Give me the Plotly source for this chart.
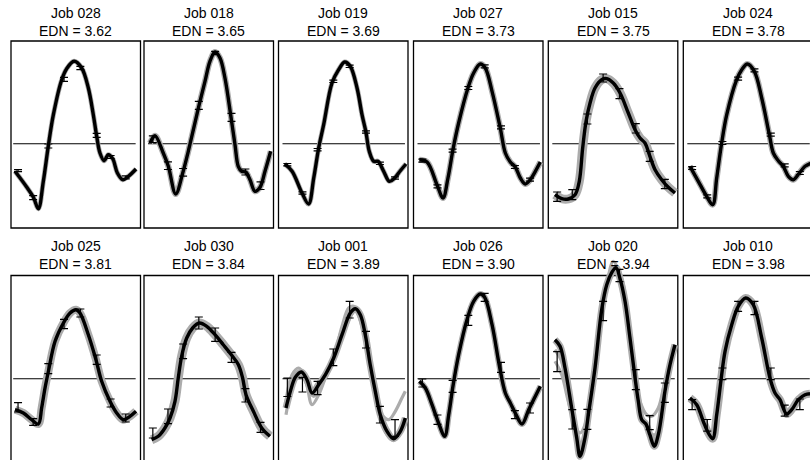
import plotly.graph_objects as go

# ---------------- data ----------------
job_ids = ["028", "018", "019", "027", "015", "024",
           "025", "030", "001", "026", "020", "010"]
edn_values = [3.62, 3.65, 3.69, 3.73, 3.75, 3.78,
              3.81, 3.84, 3.89, 3.90, 3.94, 3.98]

# positions (normalised time) of the error bars
bar_x = [0.04, 0.165, 0.29, 0.42, 0.555, 0.69, 0.805, 0.93]
zero_span = [0.0, 1.012]

x_028 = [0.015, 0.111, 0.167, 0.208, 0.249, 0.291, 0.332, 0.401, 0.442, 0.503, 0.566,
         0.621, 0.662, 0.69, 0.717, 0.751, 0.786, 0.822, 0.861, 0.905, 0.952, 1.015]
y_028 = [-2.76, -4.33, -5.36, -6.5, -3.76, -0.16, 2.9, 6.4, 7.5, 8.24, 7.57,
         5.57, 2.9, 0.74, -0.93, -1.7, -1.1, -1.5, -2.93, -3.6, -3.26, -2.53]
bar_028 = [-2.7, -5.4, -0.23, 6.43, 7.57, 0.84, -1.33, -3.36]
err_028 = [0.1, 0.2, 0.2, 0.2, 0.17, 0.2, 0.15, 0.15]

x_018 = [0.017, 0.058, 0.126, 0.168, 0.229, 0.287, 0.333, 0.375, 0.421, 0.471, 0.512, 0.554,
         0.595, 0.636, 0.686, 0.719, 0.746, 0.774, 0.807, 0.843, 0.884, 0.926, 0.967, 1.014]
y_018 = [0.07, 0.8, -0.93, -2.26, -5.03, -2.93, -0.76, 1.4, 3.8, 6.24, 8.24, 9.17,
         8.57, 6.57, 2.64, -0.1, -2.26, -2.76, -2.83, -3.6, -4.76, -4.36, -2.76, -0.76]
bar_018 = [0.45, -2.2, -2.86, 3.84, 9.07, 2.64, -2.83, -4.2]
err_018 = [0.33, 0.38, 0.38, 0.4, 0.17, 0.4, 0.3, 0.38]

x_019 = [0.018, 0.079, 0.161, 0.216, 0.258, 0.299, 0.34, 0.409, 0.464, 0.514, 0.56,
         0.616, 0.657, 0.69, 0.717, 0.754, 0.789, 0.836, 0.883, 0.927, 0.974, 1.021]
y_019 = [-2.03, -2.76, -4.93, -6.03, -3.43, -0.43, 1.9, 6.07, 7.4, 8.17, 7.74,
         5.57, 2.9, 1.14, -0.76, -1.76, -1.76, -2.76, -3.76, -3.43, -2.7, -2.03]
bar_019 = [-2.1, -4.93, -0.6, 6.24, 7.74, 1.17, -1.96, -3.43]
err_019 = [0.12, 0.12, 0.12, 0.12, 0.12, 0.12, 0.12, 0.12]

x_027 = [0.015, 0.079, 0.161, 0.211, 0.252, 0.293, 0.34, 0.417, 0.464, 0.519, 0.56,
         0.616, 0.684, 0.726, 0.767, 0.808, 0.85, 0.891, 0.932, 0.974, 1.015]
y_027 = [-1.6, -1.83, -4.1, -5.43, -3.43, -0.6, 2.07, 5.57, 7.07, 7.97, 7.57,
         5.24, 1.57, -0.93, -1.83, -2.33, -3.43, -4.03, -3.6, -2.76, -1.83]
bar_027 = [-1.7, -4.27, -0.7, 5.57, 7.74, 1.64, -2.33, -3.6]
err_027 = [0.15, 0.15, 0.15, 0.15, 0.15, 0.15, 0.15, 0.15]

x_015 = [0.022, 0.078, 0.132, 0.188, 0.223, 0.251, 0.279, 0.312, 0.353, 0.408, 0.45,
         0.504, 0.56, 0.628, 0.684, 0.725, 0.766, 0.802, 0.849, 0.904, 0.959, 1.014]
y_015 = [-5.1, -5.5, -5.53, -5.1, -3.76, -0.43, 2.24, 4.07, 5.57, 6.4, 6.5,
         6.07, 5.07, 3.07, 1.4, 0.57, 0.07, -1.1, -2.6, -3.6, -4.36, -4.93]
bar_015 = [-5.3, -5.1, 2.47, 6.57, 5.0, 1.54, -1.26, -4.03]
err_015 = [0.47, 0.5, 0.5, 0.4, 0.5, 0.47, 0.5, 0.47]

x_024 = [0.022, 0.091, 0.16, 0.21, 0.243, 0.284, 0.326, 0.408, 0.45, 0.496, 0.554,
         0.615, 0.678, 0.711, 0.752, 0.793, 0.835, 0.876, 0.926, 0.973, 1.02]
y_024 = [-2.26, -3.76, -5.26, -6.1, -3.43, 0.07, 2.9, 6.4, 7.4, 7.97, 7.24,
         4.57, 0.9, -0.93, -1.7, -2.26, -3.26, -3.6, -2.93, -2.26, -1.95]
bar_024 = [-2.43, -5.26, 0.07, 6.5, 7.34, 0.9, -2.16, -2.93]
err_024 = [0.15, 0.15, 0.15, 0.15, 0.15, 0.15, 0.15, 0.15]

x_025 = [0.015, 0.084, 0.153, 0.208, 0.235, 0.263, 0.291, 0.346, 0.415, 0.47,
         0.519, 0.552, 0.621, 0.684, 0.731, 0.8, 0.855, 0.91, 0.965, 1.015]
y_025 = [-3.1, -3.43, -4.1, -4.53, -2.93, -0.93, 0.74, 3.74, 5.57, 6.57,
         6.9, 6.57, 4.4, 1.9, -0.26, -2.26, -3.43, -4.1, -3.76, -3.26]
bar_025 = [-2.86, -4.33, 1.0, 5.47, 6.57, 1.9, -2.43, -3.93]
err_025 = [0.47, 0.33, 0.5, 0.47, 0.4, 0.47, 0.4, 0.4]

x_030 = [0.03, 0.085, 0.14, 0.182, 0.223, 0.25, 0.278, 0.32, 0.369, 0.424,
         0.485, 0.554, 0.622, 0.692, 0.747, 0.782, 0.81, 0.871, 0.94, 1.008]
y_030 = [-6.1, -5.76, -4.93, -3.93, -2.26, 0.07, 2.24, 4.07, 5.07, 5.57,
         5.24, 4.4, 3.4, 2.34, 1.4, 0.07, -1.6, -3.26, -4.93, -5.76]
bar_030 = [-5.43, -3.76, 2.74, 5.57, 4.4, 2.14, -1.66, -4.86]
err_030 = [0.5, 0.73, 0.73, 0.6, 0.67, 0.5, 0.67, 0.5]

x_001 = [0.029, 0.065, 0.106, 0.156, 0.202, 0.244, 0.299, 0.355, 0.423, 0.492, 0.56,
         0.602, 0.643, 0.684, 0.725, 0.767, 0.808, 0.864, 0.919, 0.974, 1.015]
y_001 = [-2.93, -1.26, 0.14, 0.67, -0.1, -1.43, -0.6, 0.4, 2.07, 4.4, 6.57,
         7.0, 6.4, 4.4, 1.4, -1.26, -3.6, -5.26, -6.0, -5.26, -3.93]
bar_001 = [-0.86, -0.6, -0.93, 2.14, 6.9, 3.9, -3.6, -4.93]
err_001 = [0.92, 0.73, 0.67, 0.83, 0.83, 0.83, 0.83, 0.83]
# two of the lighter replicate curves that stand out from the mean
gx_001a = [0.029, 0.079, 0.134, 0.189, 0.244, 0.299, 0.354, 0.423, 0.492, 0.547,
           0.588, 0.635, 0.684, 0.726, 0.767, 0.808, 0.864, 0.905, 0.96, 1.015]
gy_001a = [-2.26, 0.4, 1.07, 0.07, -2.6, -1.6, 0.07, 2.07, 5.24, 7.07,
           7.24, 6.07, 3.9, 1.07, -1.93, -3.93, -5.6, -6.1, -5.6, -4.6]
gx_001b = [0.029, 0.079, 0.147, 0.216, 0.258, 0.326, 0.423, 0.519, 0.602,
           0.651, 0.698, 0.74, 0.781, 0.823, 0.878, 0.932, 0.987, 1.015]
gy_001b = [-3.6, -0.93, 0.47, -0.93, -1.76, -0.43, 1.74, 5.07, 6.8,
           6.14, 3.9, 0.74, -2.26, -3.6, -4.1, -3.26, -1.93, -1.26]

x_026 = [0.015, 0.065, 0.12, 0.169, 0.225, 0.258, 0.293, 0.34, 0.409, 0.464, 0.519,
         0.555, 0.616, 0.679, 0.726, 0.767, 0.808, 0.864, 0.919, 0.974, 1.015]
y_026 = [-0.26, -0.93, -2.6, -4.26, -5.76, -3.6, -0.76, 2.4, 5.9, 7.74, 8.47,
         8.14, 5.4, 1.14, -1.43, -2.43, -3.43, -4.53, -3.1, -1.76, -0.76]
bar_026 = [-0.43, -4.1, -0.76, 5.84, 8.14, 1.14, -3.6, -2.93]
err_026 = [0.4, 0.47, 0.6, 0.5, 0.4, 0.5, 0.4, 0.5]

x_020 = [0.022, 0.064, 0.105, 0.16, 0.202, 0.229, 0.27, 0.298, 0.353, 0.408, 0.45, 0.491, 0.526,
         0.56, 0.601, 0.642, 0.684, 0.711, 0.739, 0.774, 0.806, 0.843, 0.876, 0.931, 0.973, 1.014]
y_020 = [3.9, 3.24, 1.07, -2.93, -5.93, -7.76, -5.93, -3.6, 1.07, 6.9, 9.4, 10.6, 11.1,
         10.0, 7.74, 4.07, 0.07, -2.26, -4.1, -4.53, -5.6, -6.76, -5.6, -1.26, 1.4, 3.4]
bar_020 = [1.7, -4.06, -4.06, 6.77, 10.32, -0.1, -4.4, -1.4]
err_020 = [1.0, 0.97, 1.0, 0.97, 0.62, 1.0, 0.7, 0.97]
gx_020a = [0.022, 0.078, 0.132, 0.188, 0.229, 0.27, 0.326, 0.394, 0.45, 0.504,
           0.56, 0.615, 0.671, 0.725, 0.78, 0.821, 0.876, 0.931, 0.987]
gy_020a = [1.74, 0.4, -2.26, -4.6, -5.43, -4.6, -0.93, 5.4, 9.4, 11.74,
           10.4, 6.74, 1.4, -2.26, -3.6, -3.76, -2.93, -0.26, 1.74]
gx_020b = [0.022, 0.078, 0.146, 0.202, 0.243, 0.284, 0.339, 0.408, 0.463, 0.518,
           0.573, 0.628, 0.684, 0.739, 0.793, 0.849, 0.904, 0.959, 1.0]
gy_020b = [2.9, 1.74, -1.93, -5.6, -6.93, -5.43, -0.26, 6.4, 10.07, 11.24,
           10.07, 6.07, 0.4, -3.6, -5.26, -5.6, -3.6, 0.4, 2.24]

x_010 = [0.022, 0.078, 0.132, 0.174, 0.21, 0.243, 0.279, 0.312, 0.367, 0.421, 0.482,
         0.545, 0.615, 0.683, 0.725, 0.766, 0.821, 0.863, 0.918, 0.973, 1.014]
y_010 = [-1.93, -2.6, -4.26, -5.43, -6.0, -3.6, -0.1, 2.74, 5.4, 7.24, 8.07,
         7.4, 4.07, 0.07, -1.43, -2.1, -3.53, -3.1, -2.1, -1.6, -1.5]
bar_010 = [-2.6, -4.66, 0.49, 7.24, 7.07, 0.49, -3.2, -2.56]
err_010 = [0.5, 0.58, 0.58, 0.5, 0.67, 0.58, 0.55, 0.53]

curves_x = [x_028, x_018, x_019, x_027, x_015, x_024, x_025, x_030, x_001, x_026, x_020, x_010]
curves_y = [y_028, y_018, y_019, y_027, y_015, y_024, y_025, y_030, y_001, y_026, y_020, y_010]
bars_y = [bar_028, bar_018, bar_019, bar_027, bar_015, bar_024,
          bar_025, bar_030, bar_001, bar_026, bar_020, bar_010]
bars_err = [err_028, err_018, err_019, err_027, err_015, err_024,
            err_025, err_030, err_001, err_026, err_020, err_010]
extra_gray = {8: [(gx_001a, gy_001a), (gx_001b, gy_001b)],
              10: [(gx_020a, gy_020a), (gx_020b, gy_020b)]}

# ---------------- styling / layout ----------------
W, H = 810, 460
col_left = [11, 144, 278.5, 413.5, 548.3, 683.3]
col_origin = [2.2, 4, 4, 4, 4, 4]     # px from box left to t = 0
panel_w = 129.5
px_per_t = 121.0
box_top = [41, 275.5]
box_bot = [228, 463]
dom_px = [(26, 228), (256, 460)]
zero_px = [143.7, 378.7]
px_per_unit = 10.0
halo_w = [5, 6, 5, 6, 9, 6, 8, 9, 7, 6, 7, 8]
title_rows = [(13.0, 31.0), (245.5, 263.5)]
GRAY = "#acacac"
FONT = "Liberation Sans, Arial, Helvetica, sans-serif"

fig = go.Figure()
layout = {}
shapes = []
annotations = []

for i in range(12):
    r, c = divmod(i, 6)
    n = i + 1
    sfx = "" if n == 1 else str(n)
    L = col_left[c]
    R = min(L + panel_w, W)
    off = col_origin[c]
    xr = [-off / px_per_t, (R - L - off) / px_per_t]
    dt, db = dom_px[r]
    yr = [(zero_px[r] - db) / px_per_unit, (zero_px[r] - dt) / px_per_unit]
    layout["xaxis" + sfx] = dict(domain=[L / W, R / W], range=xr, visible=False,
                                 anchor="y" + sfx, fixedrange=True)
    layout["yaxis" + sfx] = dict(domain=[1 - db / H, 1 - dt / H], range=yr, visible=False,
                                 anchor="x" + sfx, fixedrange=True)
    xa, ya = "x" + sfx, "y" + sfx

    # zero line
    fig.add_trace(go.Scatter(x=zero_span, y=[0, 0], mode="lines",
                             line=dict(color="black", width=1.1),
                             xaxis=xa, yaxis=ya, hoverinfo="skip", showlegend=False))
    # light replicate curves
    for gx, gy in extra_gray.get(i, []):
        fig.add_trace(go.Scatter(x=gx, y=gy, mode="lines",
                                 line=dict(color=GRAY, width=3.2, shape="spline"),
                                 xaxis=xa, yaxis=ya, hoverinfo="skip", showlegend=False))
    # gray halo of replicates
    fig.add_trace(go.Scatter(x=curves_x[i], y=curves_y[i], mode="lines",
                             line=dict(color=GRAY, width=halo_w[i], shape="spline"),
                             xaxis=xa, yaxis=ya, hoverinfo="skip", showlegend=False))
    # mean curve
    fig.add_trace(go.Scatter(x=curves_x[i], y=curves_y[i], mode="lines",
                             line=dict(color="black", width=3.4, shape="spline"),
                             xaxis=xa, yaxis=ya, hoverinfo="skip", showlegend=False))
    # error bars
    fig.add_trace(go.Scatter(x=bar_x, y=bars_y[i], mode="markers",
                             marker=dict(size=1, color="rgba(0,0,0,0)"),
                             error_y=dict(type="data", array=bars_err[i], color="black",
                                          thickness=1.2, width=4),
                             xaxis=xa, yaxis=ya, hoverinfo="skip", showlegend=False))

    # panel box
    shapes.append(dict(type="rect", xref="paper", yref="paper",
                       x0=L / W, x1=(L + panel_w) / W,
                       y0=1 - box_bot[r] / H, y1=1 - box_top[r] / H,
                       line=dict(color="black", width=1.3), layer="below"))
    # titles
    cx = (L + panel_w / 2) / W
    t1, t2 = title_rows[r]
    annotations.append(dict(xref="paper", yref="paper", x=cx, y=1 - t1 / H,
                            text="Job " + job_ids[i], showarrow=False,
                            xanchor="center", yanchor="middle",
                            font=dict(family=FONT, size=14, color="black")))
    annotations.append(dict(xref="paper", yref="paper", x=cx, y=1 - t2 / H,
                            text="EDN = " + f"{edn_values[i]:.2f}", showarrow=False,
                            xanchor="center", yanchor="middle",
                            font=dict(family=FONT, size=14, color="black")))

fig.update_layout(width=W, height=H, margin=dict(l=0, r=0, t=0, b=0),
                  paper_bgcolor="white", plot_bgcolor="rgba(0,0,0,0)",
                  showlegend=False, shapes=shapes, annotations=annotations,
                  font=dict(family=FONT), **layout)

fig.write_html("out.html", config={"displayModeBar": False},
               post_script="document.body.style.margin='0';document.body.style.overflow='hidden';")
